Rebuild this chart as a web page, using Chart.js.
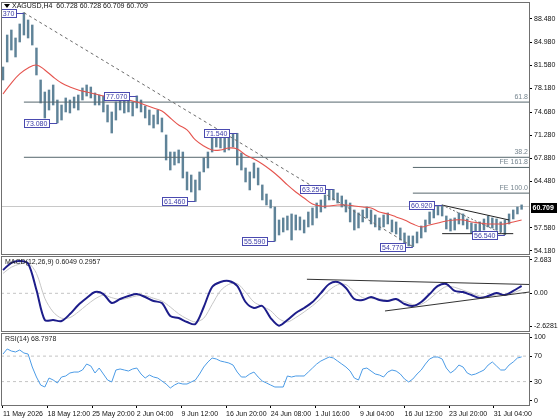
<!DOCTYPE html>
<html>
<head>
<meta charset="utf-8">
<script src="https://cdn.jsdelivr.net/npm/chart.js@4.4.1/dist/chart.umd.min.js"></script>
<style>
html, body { margin: 0; padding: 0; background: #fff; }
#wrap { position: relative; width: 560px; height: 420px; overflow: hidden; }
canvas { position: absolute; left: 0; }
</style>
</head>
<body>
<div id="wrap">
<canvas id="pChart" width="560" height="255" style="top:0px"></canvas>
<canvas id="mChart" width="560" height="77" style="top:255px"></canvas>
<canvas id="rChart" width="560" height="88" style="top:332px"></canvas>
</div>
<script>
// H4 bars, one entry every 3 bars
const barStep = 3;
const hi = [81.34,86.07,86.81,85.63,87.70,89.37,88.29,87.55,84.15,79.42,
	77.64,77.94,78.68,76.46,75.72,76.76,76.46,76.90,77.20,78.24,
	78.68,78.38,77.50,77.20,77.05,75.72,74.69,76.17,76.76,76.46,
	76.90,76.17,77.07,76.46,75.57,74.98,74.24,74.98,73.80,71.29,
	68.77,68.77,69.07,68.77,65.82,65.37,64.63,65.82,67.89,68.77,
	70.84,70.99,70.84,70.99,70.84,71.43,71.54,68.63,66.41,65.82,
	67.15,66.41,63.90,62.56,61.68,60.64,58.72,59.02,59.31,59.61,
	59.46,59.17,58.72,59.90,60.49,61.23,61.68,62.42,63.16,63.25,
	62.71,62.27,61.68,61.23,60.20,59.76,60.20,60.64,60.20,59.46,
	59.02,59.46,59.76,58.72,58.43,57.54,56.80,56.36,56.36,56.95,
	57.83,58.72,59.90,60.64,60.79,60.92,59.31,58.87,59.02,59.76,
	59.61,58.87,58.28,58.13,58.43,58.87,59.31,59.02,58.87,58.43,
	58.72,59.61,60.20,60.64,60.95];
const lo = [79.42,82.08,83.85,82.82,85.04,86.07,85.63,84.59,80.16,76.02,
	73.80,74.98,75.72,73.08,73.50,74.69,74.54,75.28,74.98,76.46,
	77.05,76.76,75.72,75.72,74.69,73.21,71.58,73.50,74.98,74.54,
	74.69,74.10,75.28,74.69,73.80,72.77,72.32,72.91,71.73,67.59,
	66.11,66.85,67.15,64.93,63.16,62.86,61.46,63.16,65.82,66.41,
	68.77,69.51,69.37,68.77,69.07,69.51,66.85,66.11,64.34,63.16,
	64.93,63.90,61.68,60.94,60.49,55.59,56.50,56.95,57.24,55.76,
	57.24,57.24,56.80,57.69,57.98,59.02,59.90,60.49,61.68,61.68,
	61.23,60.64,59.90,58.43,57.24,57.54,58.43,59.02,58.13,57.69,
	57.24,57.69,58.13,56.95,56.65,55.76,55.17,54.88,54.77,55.32,
	56.06,56.95,58.13,59.02,59.46,59.31,57.39,57.09,57.24,58.13,
	57.98,57.39,56.80,56.65,56.95,57.24,57.69,57.54,57.24,56.95,
	56.54,58.13,58.87,59.61,60.30];

// smooth lines, one entry every 6 bars
const lineStep = 6;
const ma = [77.35,78.97,80.31,81.19,81.64,80.90,79.86,78.97,78.38,77.94,
	77.64,77.35,77.05,76.90,76.76,76.46,76.17,75.72,75.28,74.84,
	73.80,72.77,72.03,70.55,69.66,69.07,69.07,69.37,69.22,68.33,
	67.74,67.00,66.11,65.08,63.90,62.86,61.97,61.09,60.79,60.79,
	60.94,60.94,60.79,60.64,60.49,59.90,59.61,59.17,58.72,58.13,
	57.69,57.98,58.28,58.57,58.72,58.72,58.43,58.28,58.13,58.13,
	58.13,58.43,58.72];
const macd = [1.87,2.45,2.60,2.40,0.27,-2.15,-2.15,-2.23,-1.67,-0.94,
	-0.38,0.10,-0.06,-0.78,-0.46,-0.22,-0.06,-0.30,-0.62,-0.78,
	-1.83,-1.99,-2.31,-2.47,-1.10,0.51,0.91,0.99,0.59,-0.70,
	-1.18,-1.02,-1.99,-2.60,-2.15,-1.58,-1.18,-0.70,0.02,0.75,
	0.91,0.43,-0.46,-0.54,-0.30,-0.54,-0.62,-0.46,-0.86,-1.02,
	-0.70,-0.06,0.59,0.75,0.19,0.10,-0.14,-0.38,-0.22,0.02,
	-0.14,0.19,0.60];
const signal = [1.6,2.1,2.35,2.45,1.6,-0.4,-1.5,-2.0,-1.95,-1.5,
	-0.95,-0.45,-0.15,-0.35,-0.5,-0.38,-0.2,-0.18,-0.4,-0.62,
	-1.1,-1.65,-2.05,-2.3,-2.0,-0.9,0.2,0.72,0.78,0.1,
	-0.7,-1.05,-1.4,-2.05,-2.3,-1.95,-1.5,-1.0,-0.42,0.25,
	0.68,0.7,0.12,-0.35,-0.42,-0.45,-0.55,-0.52,-0.66,-0.9,
	-0.88,-0.45,0.12,0.55,0.48,0.25,0.02,-0.22,-0.28,-0.12,
	-0.08,0.04,0.30];
const rsi = [73.3,81.2,78.0,76.5,79.6,74.9,73.3,52.9,37.2,24.6,
	21.5,35.6,32.5,27.8,37.2,38.8,43.5,45.0,45.0,48.2,
	57.6,54.5,43.5,51.3,41.9,32.5,29.4,48.2,49.8,48.2,
	46.6,49.8,51.3,41.9,35.6,40.3,37.2,35.6,30.9,26.2,
	19.9,24.6,27.8,26.2,26.2,29.4,32.5,41.9,52.9,60.8,
	67.0,65.5,62.3,60.8,59.2,56.0,45.0,37.2,37.2,41.9,
	45.0,37.2,30.9,27.8,24.6,21.5,21.5,21.5,38.8,37.2,
	38.8,38.8,38.8,45.0,51.3,57.6,62.3,65.5,68.6,67.0,
	62.3,57.6,52.9,46.6,35.6,32.5,49.8,51.3,46.6,41.9,
	40.3,37.2,45.0,48.2,46.6,41.9,34.1,29.4,34.1,41.9,
	48.2,57.6,65.5,68.6,68.6,65.5,51.3,43.5,48.2,56.0,
	52.9,43.5,40.3,41.9,45.0,48.2,56.0,60.8,54.5,48.2,
	48.2,56.0,60.8,67.0,68.8];

const timeBars = [0, 32, 64, 96, 128, 160, 192, 224, 256, 288, 320, 352];
const timeLabels = ["11 May 2026", "18 May 12:00", "25 May 20:00", "2 Jun 04:00", "9 Jun 12:00", "16 Jun 20:00",
	"24 Jun 08:00", "1 Jul 16:00", "9 Jul 04:00", "16 Jul 12:00", "23 Jul 20:00", "31 Jul 04:00"];
const priceTicks = [88.48, 84.98, 81.58, 78.18, 74.68, 71.28, 67.88, 64.48, 57.58, 54.18];
const macdTicks = [2.683, 0, -2.6281];
const macdTickText = ["2.683", "0.00", "-2.6281"];
const rsiTicks = [100, 70, 30, 0];
const rsiLevels = [70, 30];

const pivotBars = [15, 39, 96, 138, 168, 195, 237, 294, 315, 360];
const pivotPrices = [89.37, 73.08, 77.07, 61.46, 71.54, 55.59, 63.25, 54.77, 60.92, 56.54];
const fibLevels = [76.15, 67.99];
const fibText = ["61.8", "38.2"];
const feLevels = [66.49, 62.69];
const feText = ["FE 161.8", "FE 100.0"];
const bidPrice = 60.709;
const titleText = "XAGUSD,H4  60.728 60.728 60.709 60.709";
const macdTitle = "MACD(12,26,9) 0.6049 0.2957";
const rsiTitle = "RSI(14) 68.7978";

const xMin = -1.43, xMax = 377.3;
const FONT = "'Liberation Sans', sans-serif";
const LABEL_FONT = "7px " + FONT;

Chart.defaults.font.family = FONT;
Chart.defaults.font.size = 7;
Chart.defaults.animation = false;
Chart.defaults.plugins.legend.display = false;
Chart.defaults.plugins.tooltip.enabled = false;

const pts = (arr, step) => arr.map((v, i) => ({ x: i * step, y: v }));
const seg = (x0, x1, y) => [{ x: x0, y: y }, { x: x1, y: y }];
const line = (data, color, width, order, extra) =>
	Object.assign({ type: "line", data: data, borderColor: color, borderWidth: width, pointRadius: 0, order: order }, extra || {});

const hiddenX = { type: "linear", display: false, min: xMin, max: xMax, offset: false };

function rightAxis(min, max, vals, text) {
	return {
		type: "linear", position: "right", min: min, max: max,
		afterFit: (s) => { s.width = 31; s.paddingTop = 0; s.paddingBottom = 0; },
		afterBuildTicks: (s) => { s.ticks = vals.map((v) => ({ value: v })); },
		border: { display: false },
		grid: { drawOnChartArea: false, drawTicks: true, tickLength: 3, tickColor: "#000" },
		ticks: { padding: 2, color: "#111", autoSkip: false, callback: (v, i) => text[i] },
	};
}

const paneBorder = {
	id: "paneBorder",
	afterDraw(chart) {
		const { ctx, chartArea: a } = chart;
		ctx.save();
		ctx.strokeStyle = "#707070";
		ctx.lineWidth = 1;
		ctx.strokeRect(a.left + 0.5, a.top + 0.5, a.right - a.left, a.bottom - a.top);
		ctx.restore();
	},
};

function paneTitle(text) {
	return {
		id: "paneTitle",
		afterDatasetsDraw(chart) {
			const { ctx, chartArea: a } = chart;
			ctx.save();
			ctx.font = LABEL_FONT;
			ctx.fillStyle = "#222";
			ctx.textBaseline = "middle";
			ctx.fillText(text, a.left + 4, a.top + 6);
			ctx.restore();
		},
	};
}

const mainDecor = {
	id: "mainDecor",
	afterDatasetsDraw(chart) {
		const { ctx, chartArea: a, scales } = chart;
		const x = scales.x, y = scales.y;
		ctx.save();
		ctx.beginPath();
		ctx.rect(a.left, a.top, a.right - a.left, a.bottom - a.top);
		ctx.clip();
		ctx.font = LABEL_FONT;
		ctx.textBaseline = "middle";
		ctx.textAlign = "right";
		ctx.fillStyle = "#76858f";
		fibLevels.forEach((lv, i) => ctx.fillText(fibText[i], a.right - 1, y.getPixelForValue(lv) - 5));
		feLevels.forEach((lv, i) => ctx.fillText(feText[i], a.right - 1, y.getPixelForValue(lv) - 5));

		ctx.textAlign = "left";
		ctx.lineWidth = 1;
		pivotBars.forEach((b, i) => {
			const px = x.getPixelForValue(b);
			const py = Math.round(y.getPixelForValue(pivotPrices[i])) + 0.5;
			const t = pivotPrices[i].toFixed(3);
			const w = Math.ceil(ctx.measureText(t).width) + 3, h = 8;
			const bx = Math.round(px - 8 - w) + 0.5;
			ctx.strokeStyle = "#4a4ab0";
			ctx.beginPath();
			ctx.moveTo(bx + w, py);
			ctx.lineTo(px, py);
			ctx.stroke();
			ctx.fillStyle = "#fff";
			ctx.fillRect(bx, py - 4, w, h);
			ctx.strokeRect(bx, py - 4, w, h);
			ctx.fillStyle = "#3a3aa6";
			ctx.fillText(t, bx + 1.5, py + 0.5);
		});

		// window title
		ctx.fillStyle = "#000";
		ctx.beginPath();
		ctx.moveTo(a.left + 3, a.top + 2);
		ctx.lineTo(a.left + 9, a.top + 2);
		ctx.lineTo(a.left + 6, a.top + 6);
		ctx.closePath();
		ctx.fill();
		ctx.fillStyle = "#111";
		ctx.fillText(titleText, a.left + 11, a.top + 4.5);
		ctx.restore();
	},
	afterDraw(chart) {
		const { ctx, chartArea: a, scales } = chart;
		const py = Math.round(scales.y.getPixelForValue(bidPrice));
		ctx.save();
		ctx.fillStyle = "#000";
		ctx.fillRect(a.right + 2, py - 4, 26, 10);
		ctx.fillStyle = "#fff";
		ctx.font = "bold 7px " + FONT;
		ctx.textBaseline = "middle";
		ctx.fillText(bidPrice.toFixed(3), a.right + 3.5, py + 1);
		ctx.restore();
	},
};

const pChart = new Chart(document.getElementById("pChart"), {
	type: "bar",
	data: {
		datasets: [
			line(seg(xMin, xMax, bidPrice), "#c8c8c8", 1, 9),
			{
				type: "bar",
				data: hi.map((h, i) => ({ x: i * barStep, y: [lo[i], h] })),
				backgroundColor: "#5f8398",
				barThickness: 1.8,
				order: 5,
			},
			line(seg(pivotBars[0], xMax, fibLevels[0]), "#56676d", 1, 3),
			line(seg(pivotBars[0], xMax, fibLevels[1]), "#56676d", 1, 3),
			line(seg(pivotBars[7], xMax, feLevels[0]), "#56676d", 1, 3),
			line(seg(pivotBars[7], xMax, feLevels[1]), "#56676d", 1, 3),
			line(pts(ma, lineStep), "#e5544e", 1.1, 2, { tension: 0.4 }),
			line([{ x: pivotBars[0], y: pivotPrices[0] }, { x: pivotBars[7], y: pivotPrices[7] }], "#6a6a6a", 1, 1, { borderDash: [3, 3] }),
			line([{ x: pivotBars[8], y: pivotPrices[8] }, { x: pivotBars[9], y: pivotPrices[9] }], "#6a6a6a", 1, 1, { borderDash: [2, 2] }),
			line([{ x: 315, y: 60.92 }, { x: 363, y: 58.72 }], "#222", 1, 1),
			line([{ x: 315, y: 56.70 }, { x: 366, y: 56.70 }], "#222", 1, 1),
		],
	},
	options: {
		responsive: false,
		events: [],
		layout: { padding: { left: 1, right: 0, top: 2, bottom: 1 } },
		scales: {
			x: hiddenX,
			y: rightAxis(53.69, 90.95, priceTicks, priceTicks.map((v) => v.toFixed(3))),
		},
	},
	plugins: [mainDecor, paneBorder],
});

const mChart = new Chart(document.getElementById("mChart"), {
	type: "line",
	data: {
		datasets: [
			line(seg(xMin, xMax, 0), "#c4c4c4", 1, 9, { borderDash: [3, 3] }),
			line(pts(signal, lineStep), "#c6c6c6", 1, 3, { tension: 0.3 }),
			line(pts(macd, lineStep), "#1d1d8a", 2, 2, { tension: 0.3 }),
			line([{ x: 218, y: 1.13 }, { x: xMax, y: 0.71 }], "#333", 1, 1),
			line([{ x: 274, y: -1.42 }, { x: xMax, y: 0.10 }], "#333", 1, 1),
		],
	},
	options: {
		responsive: false,
		events: [],
		layout: { padding: { left: 1, right: 0, top: 1, bottom: 1 } },
		scales: {
			x: hiddenX,
			y: rightAxis(-3.03, 3.0, macdTicks, macdTickText),
		},
	},
	plugins: [paneTitle(macdTitle), paneBorder],
});

const rChart = new Chart(document.getElementById("rChart"), {
	type: "line",
	data: {
		datasets: [
			line(seg(xMin, xMax, rsiLevels[0]), "#c4c4c4", 1, 9, { borderDash: [3, 3] }),
			line(seg(xMin, xMax, rsiLevels[1]), "#c4c4c4", 1, 9, { borderDash: [3, 3] }),
			line(pts(rsi, barStep), "#4b9be6", 1, 2),
		],
	},
	options: {
		responsive: false,
		events: [],
		layout: { padding: { left: 1, right: 0, top: 1, bottom: 0 } },
		scales: {
			x: {
				type: "linear", min: xMin, max: xMax, offset: false,
				afterFit: (s) => { s.height = 15; s.paddingLeft = 0; s.paddingRight = 0; },
				afterBuildTicks: (s) => { s.ticks = timeBars.map((v) => ({ value: v })); },
				border: { display: false },
				grid: { drawOnChartArea: false, drawTicks: true, tickLength: 3, tickColor: "#000" },
				ticks: { align: "start", maxRotation: 0, autoSkip: false, padding: 2, color: "#111", callback: (v, i) => timeLabels[i] },
			},
			y: rightAxis(-6.75, 106.3, rsiTicks, rsiTicks.map(String)),
		},
	},
	plugins: [paneTitle(rsiTitle), paneBorder],
});
</script>
</body>
</html>
